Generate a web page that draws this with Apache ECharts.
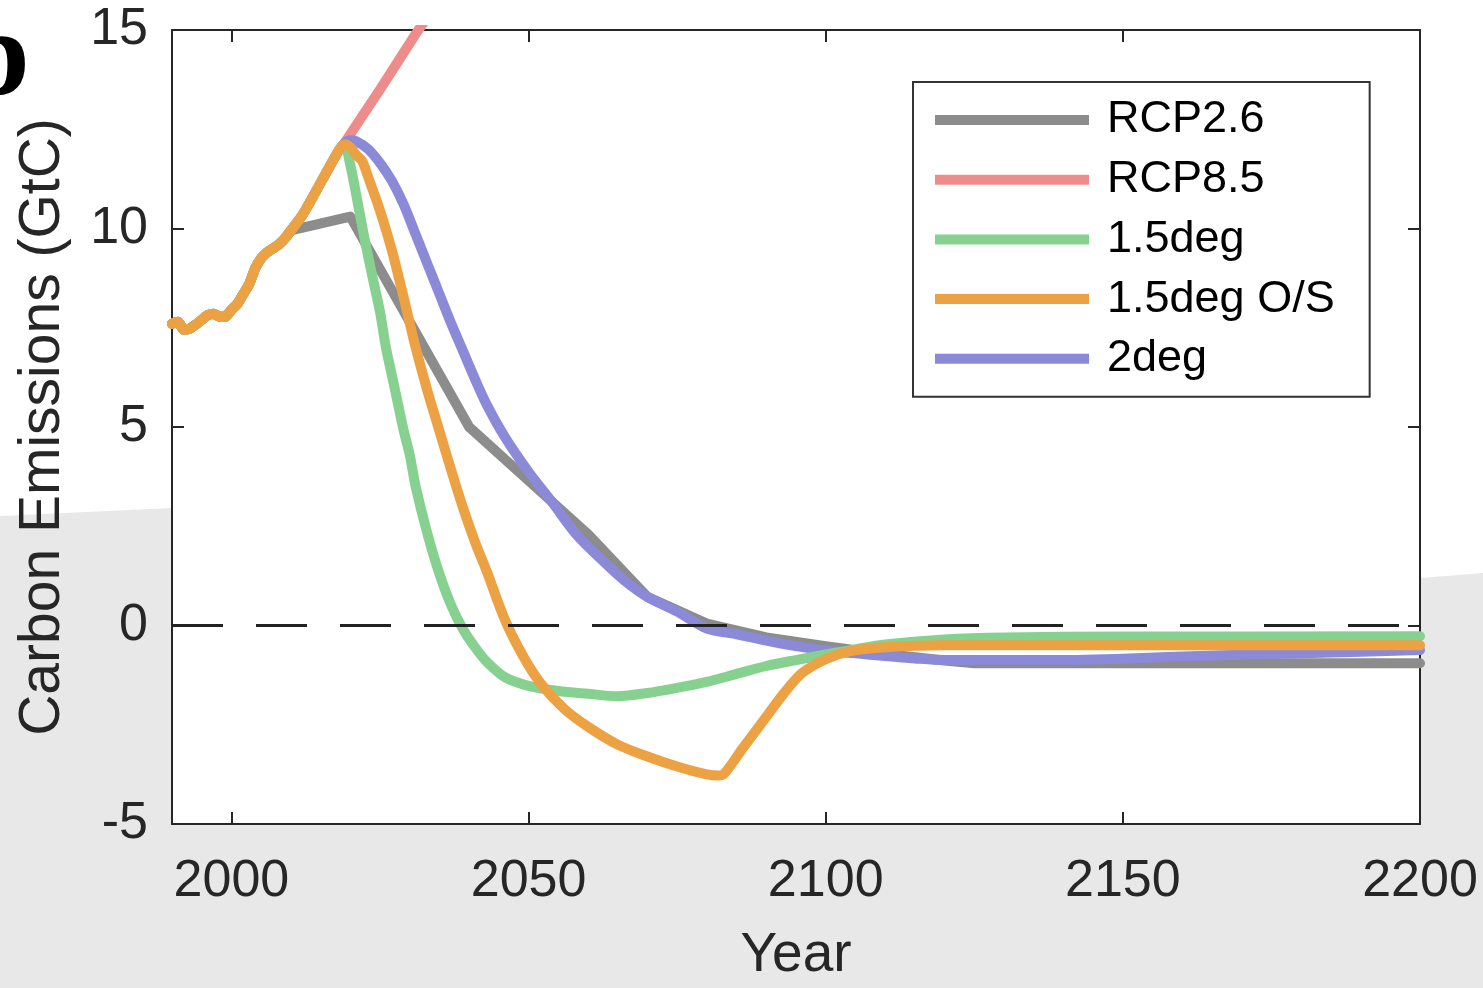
<!DOCTYPE html>
<html lang="en">
<head>
    <meta charset="UTF-8">
    <title>Carbon Emissions</title>
    <style>
        html, body {margin: 0; padding: 0; background: #fff;}
        #main {width: 1483px; height: 988px;}
    </style>
</head>
<body>
<div id="main"></div>
<script src="https://cdn.jsdelivr.net/npm/echarts@6/dist/echarts.min.js"></script>
<script>
    // 历史排放（所有情景共用）
    var histYears = [1990, 1991, 1992, 1993, 1994, 1995, 1996, 1997, 1998, 1999, 2000, 2001, 2002, 2003, 2004, 2005, 2006, 2007, 2008, 2009, 2010];
    var histValues = [7.6, 7.65, 7.45, 7.48, 7.58, 7.7, 7.82, 7.85, 7.78, 7.78, 7.95, 8.1, 8.35, 8.6, 9.0, 9.25, 9.4, 9.5, 9.6, 9.75, 9.95];
    // 2010之后到峰值前的上升段（除RCP2.6外共用）
    var riseYears = [2012, 2015, 2018];
    var riseValues = [10.35, 11.15, 11.95];

    var rcp26Years = [2020, 2040, 2050, 2060, 2070, 2080, 2090, 2100, 2110, 2120, 2125, 2200];
    var rcp26Values = [10.3, 5.0, 3.65, 2.3, 0.72, 0.05, -0.3, -0.52, -0.72, -0.88, -0.95, -0.95];

    var rcp85Years = [2019, 2022, 2025, 2028, 2031, 2034];
    var rcp85Values = [12.15, 12.83, 13.5, 14.2, 14.9, 15.55];

    var deg15Years = [2019, 2020, 2021, 2022, 2023, 2024, 2025, 2026, 2027, 2028, 2029, 2030, 2031, 2033, 2035, 2037, 2039, 2041, 2043, 2046, 2050, 2055, 2060, 2065, 2070, 2075, 2080, 2085, 2090, 2095, 2100, 2105, 2110, 2120, 2130, 2150, 2200];
    var deg15Values = [12.1, 11.6, 10.85, 10.05, 9.3, 8.6, 7.9, 7.0, 6.3, 5.6, 4.9, 4.3, 3.5, 2.3, 1.3, 0.5, -0.1, -0.55, -0.92, -1.3, -1.52, -1.65, -1.72, -1.78, -1.7, -1.57, -1.42, -1.22, -1.02, -0.87, -0.73, -0.6, -0.48, -0.35, -0.3, -0.28, -0.27];

    var deg15osYears = [2019, 2020, 2021, 2022, 2023, 2025, 2027, 2029, 2031, 2033, 2035, 2037, 2039, 2041, 2043, 2046, 2049, 2052, 2056, 2060, 2065, 2070, 2075, 2080, 2082, 2083, 2086, 2090, 2093, 2096, 2100, 2104, 2110, 2120, 2200];
    var deg15osValues = [12.12, 12.05, 11.85, 11.7, 11.3, 10.45, 9.45, 8.25, 7.0, 5.9, 4.9, 3.9, 2.95, 2.1, 1.35, 0.15, -0.75, -1.45, -2.1, -2.55, -3.0, -3.3, -3.55, -3.75, -3.78, -3.72, -3.1, -2.3, -1.7, -1.2, -0.85, -0.65, -0.55, -0.5, -0.5];

    var deg2Years = [2019, 2020, 2021, 2023, 2025, 2027, 2029, 2031, 2033, 2035, 2037, 2039, 2041, 2043, 2046, 2050, 2054, 2058, 2062, 2066, 2070, 2075, 2080, 2085, 2090, 2095, 2100, 2105, 2110, 2115, 2120, 2140, 2160, 2180, 2200];
    var deg2Values = [12.15, 12.22, 12.2, 12.0, 11.65, 11.2, 10.6, 9.85, 9.1, 8.35, 7.6, 6.9, 6.2, 5.55, 4.75, 3.87, 3.1, 2.3, 1.7, 1.15, 0.72, 0.35, -0.08, -0.22, -0.38, -0.52, -0.63, -0.7, -0.77, -0.83, -0.87, -0.87, -0.78, -0.7, -0.62];

    var xTicks = [2000, 2050, 2100, 2150, 2200];
    var legendNames = ['RCP2.6', 'RCP8.5', '1.5deg', '1.5deg O/S', '2deg'];

    function pairs(years, values) {
        var out = [];
        for (var i = 0; i < years.length; i++) {
            out.push([years[i], values[i]]);
        }
        return out;
    }

    var histData = pairs(histYears, histValues);
    var riseData = histData.concat(pairs(riseYears, riseValues));

    var fontName = '"Liberation Sans", Arial, sans-serif';
    var axisColor = '#262626';

    function lineSeries(name, color, data, smooth) {
        return {
            name: name,
            type: 'line',
            data: data,
            showSymbol: false,
            smooth: smooth,
            lineStyle: {color: color, width: 10, cap: 'round', join: 'round'},
            itemStyle: {color: color}
        };
    }

    var app = echarts.init(document.getElementById('main'), null, {renderer: 'canvas'});
    var option = {
        animation: false,
        backgroundColor: '#fff',
        textStyle: {fontFamily: fontName},
        graphic: [
            {
                type: 'polygon',
                z: -10,
                silent: true,
                shape: {points: [[0, 516], [172, 508], [1420, 578], [1483, 573], [1483, 988], [0, 988]]},
                style: {fill: '#e8e8e8'}
            },
            {
                type: 'text',
                left: -38,
                top: 1,
                silent: true,
                style: {text: 'b', font: 'bold 122px "Liberation Serif", serif', fill: '#000'}
            }
        ],
        grid: {
            left: 172, right: 63, top: 30, bottom: 156,
            show: true, backgroundColor: '#fff', borderWidth: 0
        },
        legend: {
            data: legendNames,
            orient: 'vertical',
            left: 913,
            top: 82,
            icon: 'rect',
            itemWidth: 154,
            itemHeight: 10,
            itemGap: 9.7,
            padding: [13, 35, 13, 22],
            backgroundColor: '#fff',
            borderColor: '#333',
            borderWidth: 2,
            borderRadius: 0,
            textStyle: {fontSize: 45, color: '#000', fontFamily: fontName, lineHeight: 50, padding: [0, 0, 0, 13]}
        },
        xAxis: [
            {
                type: 'value', min: 1990, max: 2200, position: 'bottom',
                name: 'Year', nameLocation: 'middle', nameGap: 104,
                nameTextStyle: {fontSize: 55, color: axisColor, fontFamily: fontName},
                axisLine: {show: true, onZero: false, lineStyle: {color: axisColor, width: 2}},
                axisTick: {show: true, inside: true, length: 12, customValues: xTicks, lineStyle: {color: axisColor, width: 2}},
                axisLabel: {
                    customValues: xTicks, fontSize: 52, color: axisColor, margin: 32, fontFamily: fontName,
                    formatter: function (v) { return String(v); }
                },
                splitLine: {show: false}
            },
            {
                type: 'value', min: 1990, max: 2200, position: 'top',
                axisLine: {show: true, onZero: false, lineStyle: {color: axisColor, width: 2}},
                axisTick: {show: true, inside: true, length: 12, customValues: xTicks, lineStyle: {color: axisColor, width: 2}},
                axisLabel: {show: false},
                splitLine: {show: false}
            }
        ],
        yAxis: [
            {
                type: 'value', min: -5, max: 15, interval: 5, position: 'left',
                name: 'Carbon Emissions (GtC)', nameLocation: 'middle', nameGap: 100,
                nameTextStyle: {fontSize: 57, color: axisColor, fontFamily: fontName},
                axisLine: {show: true, onZero: false, lineStyle: {color: axisColor, width: 2}},
                axisTick: {show: true, inside: true, length: 12, lineStyle: {color: axisColor, width: 2}},
                axisLabel: {fontSize: 52, color: axisColor, margin: 24, fontFamily: fontName},
                splitLine: {show: false}
            },
            {
                type: 'value', min: -5, max: 15, interval: 5, position: 'right',
                axisLine: {show: true, onZero: false, lineStyle: {color: axisColor, width: 2}},
                axisTick: {show: true, inside: true, length: 12, lineStyle: {color: axisColor, width: 2}},
                axisLabel: {show: false},
                splitLine: {show: false}
            }
        ],
        series: [
            lineSeries('RCP2.6', '#8c8c8c', histData.concat(pairs(rcp26Years, rcp26Values)), false),
            lineSeries('RCP8.5', '#ee8c8c', riseData.concat(pairs(rcp85Years, rcp85Values)), false),
            lineSeries('2deg', '#8a8ad9', riseData.concat(pairs(deg2Years, deg2Values)), 0.3),
            lineSeries('1.5deg', '#87d190', riseData.concat(pairs(deg15Years, deg15Values)), 0.3),
            (function () {
                var s = lineSeries('1.5deg O/S', '#eca143', riseData.concat(pairs(deg15osYears, deg15osValues)), 0.3);
                s.markLine = {
                    silent: true,
                    symbol: ['none', 'none'],
                    label: {show: false},
                    lineStyle: {color: '#222', width: 3, type: [51, 33]},
                    data: [{yAxis: 0}]
                };
                return s;
            })()
        ]
    };
    app.setOption(option);
</script>
</body>
</html>
